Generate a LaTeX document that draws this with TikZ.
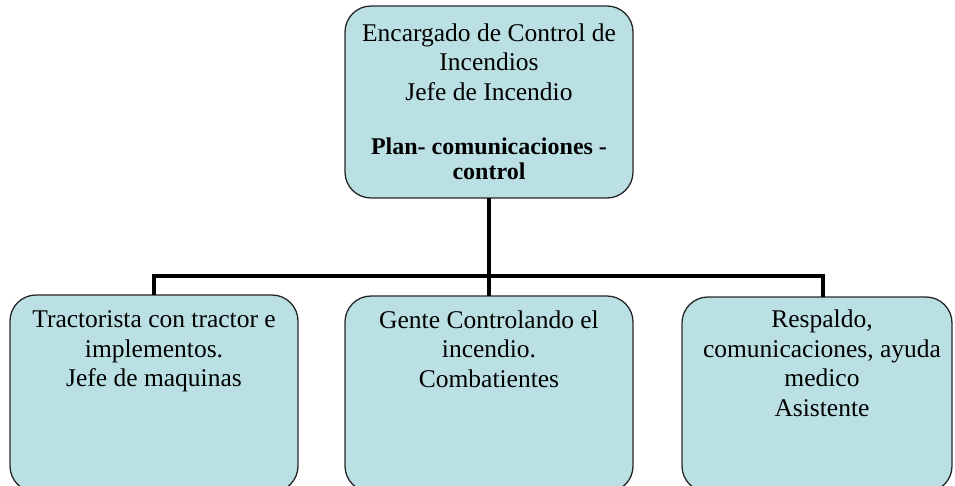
\documentclass[tikz,border=0pt]{standalone}
\usepackage{fontspec}
\setmainfont{Liberation Serif}
\definecolor{boxfill}{HTML}{BBE0E3}
\begin{document}
\begin{tikzpicture}[x=1pt,y=-1pt,
  orgbox/.style={draw=black!85, line width=1.3pt, fill=boxfill, rounded corners=26pt},
  boxtext/.style={anchor=north, align=center, inner sep=0pt, font=\fontsize{25.5}{29.5}\selectfont},
  link/.style={line width=4pt, black}]
\useasboundingbox (0,0) rectangle (955,485);
% boxes
\draw[orgbox] (345,6) rectangle (633,198);
\draw[orgbox] (10,295) rectangle (298,492);
\draw[orgbox] (345,296) rectangle (633,492);
\draw[orgbox] (682,297) rectangle (952,492);
\coordinate (topb) at (489,198);
\coordinate (lt) at (154,295);
\coordinate (mt) at (489,296);
\coordinate (rt) at (823,297);
\coordinate (bus) at (489,276);
% texts
\node[boxtext] (ttop) at (489,23.5) {Encargado de Control de\\Incendios\\Jefe de Incendio\\[24.5pt]{\fontsize{24}{25}\selectfont\bfseries Plan- comunicaciones -}\\[-4.5pt]{\fontsize{24}{25}\selectfont\bfseries control}};
\node[boxtext] (tleft) at (154,310.5) {Tractorista con tractor e\\implementos.\\Jefe de maquinas};
\node[boxtext] (tmid) at (489,310.5) {Gente Controlando el\\incendio.\\Combatientes};
\node[boxtext] (tright) at (822,310) {Respaldo,\\comunicaciones, ayuda\\medico\\Asistente};
% connectors
\draw[link] (topb) -- (bus);
\draw[link] (lt) -- (lt |- bus) -- (rt |- bus) -- (rt);
\draw[link] (bus) -- (mt);
\end{tikzpicture}
\end{document}
